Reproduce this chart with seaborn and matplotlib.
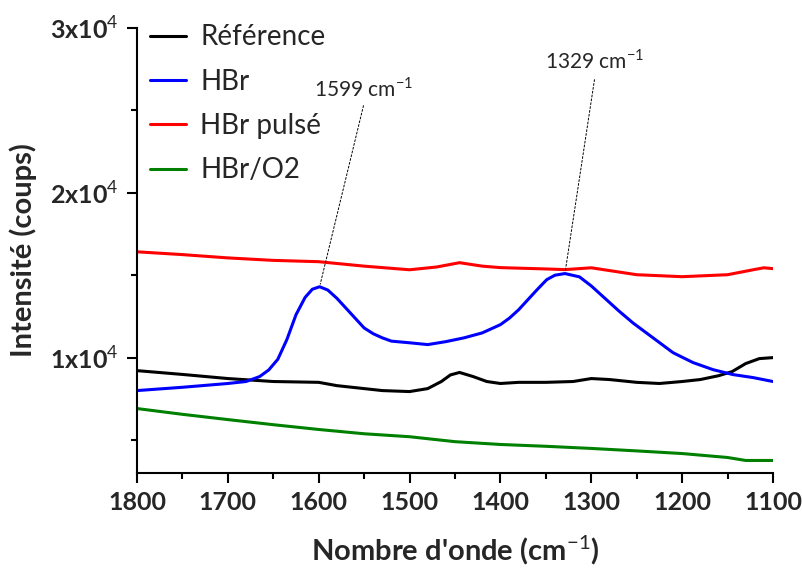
import matplotlib
matplotlib.use("Agg")
import matplotlib.pyplot as plt
import numpy as np
import pandas as pd
import seaborn as sns

# Raman spectra (wavenumber in cm-1, intensity in counts)
ref_x = [1800, 1750, 1700, 1650, 1600, 1580, 1550, 1530, 1500, 1480, 1465, 1455, 1445,
         1430, 1415, 1400, 1380, 1350, 1320, 1300, 1280, 1250, 1225, 1200, 1180, 1160,
         1145, 1130, 1115, 1100]
ref_y = [9210, 8980, 8730, 8550, 8500, 8300, 8120, 8000, 7940, 8120, 8550, 8950, 9100,
         8850, 8550, 8430, 8500, 8500, 8550, 8730, 8670, 8500, 8430, 8550, 8670, 8900,
         9150, 9640, 9940, 10000]

hbr_x = [1800, 1750, 1700, 1680, 1665, 1655, 1645, 1635, 1625, 1615, 1607, 1599, 1590,
         1580, 1570, 1560, 1550, 1540, 1530, 1520, 1500, 1480, 1460, 1440, 1420, 1400,
         1390, 1380, 1370, 1360, 1349, 1340, 1329, 1313, 1300, 1290, 1280, 1270, 1254,
         1232, 1210, 1188, 1166, 1144, 1122, 1100]
hbr_y = [8000, 8200, 8430, 8550, 8850, 9250, 9900, 11100, 12600, 13650, 14150, 14300, 14100,
         13600, 13000, 12400, 11800, 11450, 11200, 11000, 10900, 10790, 10970, 11200, 11500, 12000,
         12400, 12900, 13500, 14100, 14730, 15000, 15100, 14900, 14350, 13850, 13350, 12850, 12100,
         11200, 10300, 9700, 9270, 8970, 8790, 8550]

pulse_x = [1800, 1750, 1700, 1650, 1600, 1550, 1500, 1470, 1445, 1420, 1400, 1350, 1329,
           1300, 1250, 1200, 1150, 1120, 1110, 1100]
pulse_y = [16420, 16250, 16050, 15900, 15820, 15550, 15330, 15500, 15760, 15550, 15460, 15380, 15340,
           15450, 15030, 14910, 15030, 15350, 15450, 15400]

o2_x = [1800, 1750, 1700, 1650, 1600, 1550, 1500, 1450, 1400, 1350, 1300, 1250, 1200,
        1150, 1130, 1100]
o2_y = [6910, 6560, 6240, 5930, 5640, 5380, 5200, 4900, 4730, 4620, 4490, 4340, 4180,
        3940, 3760, 3760]

labels = ["Référence", "HBr", "HBr pulsé", "HBr/O2"]
colors = ["#000000", "#0000ff", "#ff0000", "#008000"]

peak_1 = (1599, 14300)
peak_2 = (1329, 15100)

frames = []
for name, xs, ys in zip(labels, [ref_x, hbr_x, pulse_x, o2_x], [ref_y, hbr_y, pulse_y, o2_y]):
    frames.append(pd.DataFrame({"wavenumber": xs, "intensity": ys, "sample": name}))
df = pd.concat(frames, ignore_index=True)

sns.set_style("ticks")
plt.rcParams["font.family"] = ["Lato", "DejaVu Sans"]
plt.rcParams["mathtext.fontset"] = "custom"
plt.rcParams["mathtext.rm"] = "Lato"
plt.rcParams["mathtext.bf"] = "Lato:bold"

fig = plt.figure(figsize=(8.03, 5.70), dpi=100)
ax = fig.add_axes([0.1706, 0.1702, 0.792, 0.7807])

sns.lineplot(data=df, x="wavenumber", y="intensity", hue="sample", hue_order=labels,
             palette=colors, estimator=None, sort=True, linewidth=2.2, ax=ax)

ax.set_xlim(1800, 1100)
ax.set_ylim(3000, 30000)
ax.set_xticks(np.arange(1800, 1099, -100))
ax.set_xticks(np.arange(1750, 1099, -100), minor=True)
ax.set_yticks([10000, 20000, 30000])
ax.set_yticks([5000, 15000, 25000], minor=True)
ax.set_yticklabels(["1x10$^{4}$", "2x10$^{4}$", "3x10$^{4}$"])

for lab in ax.get_xticklabels() + ax.get_yticklabels():
    lab.set_fontweight("bold")
    lab.set_fontsize(18)

ax.tick_params(which="major", direction="out", length=7, width=1.5, color="black", pad=6)
ax.tick_params(which="minor", direction="out", length=4, width=1.5, color="black")
for side in ["left", "bottom"]:
    ax.spines[side].set_linewidth(1.5)
    ax.spines[side].set_color("black")
sns.despine(ax=ax)

ax.set_xlabel("Nombre d'onde (cm$^{-1}$)", fontsize=21, fontweight="bold", labelpad=14)
ax.set_ylabel("Intensité (coups)", fontsize=21, fontweight="bold", labelpad=10)

# peak annotations
ax.annotate("", xy=peak_1, xytext=(1550, 25450),
            arrowprops=dict(arrowstyle="-", linestyle=(0, (2, 2)), lw=0.7, color="black"))
ax.text(1551, 26350, "1599 cm$^{-1}$", ha="center", va="center", fontsize=15)
ax.annotate("", xy=peak_2, xytext=(1296, 27030),
            arrowprops=dict(arrowstyle="-", linestyle=(0, (2, 2)), lw=0.7, color="black"))
ax.text(1296, 28000, "1329 cm$^{-1}$", ha="center", va="center", fontsize=15)

handles, _ = ax.get_legend_handles_labels()
ax.legend(handles=handles, labels=labels, loc="upper left", bbox_to_anchor=(-0.01, 1.052),
          frameon=False, fontsize=20, handlelength=1.3, handletextpad=0.5,
          labelspacing=0.66, borderaxespad=0.3)

fig.savefig("out.png", dpi=100)
